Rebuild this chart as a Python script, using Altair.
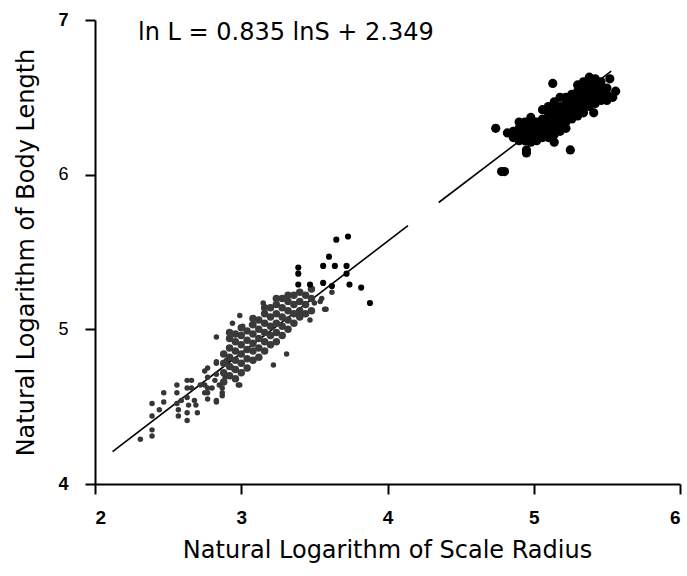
import altair as alt
import pandas as pd

# ---- data (natural-log units) ----
# lower (small fish) cluster, outer scattered dots
lower_sparse = [
    [2.31, 4.29], [2.39, 4.35], [2.39, 4.31], [2.39, 4.52], [2.39, 4.44], [2.44, 4.48],
    [2.47, 4.59], [2.47, 4.53], [2.56, 4.64], [2.56, 4.59], [2.56, 4.52], [2.57, 4.48],
    [2.57, 4.44], [2.59, 4.54], [2.63, 4.67], [2.63, 4.62], [2.63, 4.56], [2.64, 4.51],
    [2.63, 4.46], [2.63, 4.41], [2.66, 4.67], [2.66, 4.62], [2.68, 4.54], [2.70, 4.46],
    [2.69, 4.51], [2.72, 4.64], [2.75, 4.64], [2.77, 4.75], [2.77, 4.69], [2.77, 4.59],
    [2.77, 4.55], [2.80, 4.62], [2.83, 4.78], [2.83, 4.71], [2.82, 4.67], [2.83, 4.53],
    [2.85, 4.64], [2.87, 4.59], [2.90, 4.80], [2.94, 4.75], [2.98, 4.64],
    [3.15, 5.17], [2.99, 5.09], [2.94, 5.04], [2.83, 4.95], [3.07, 5.03], [3.01, 5.02],
    [3.31, 4.84], [3.22, 4.77], [2.83, 4.79], [2.75, 4.73], [2.77, 4.62], [2.75, 4.59],
    [2.89, 4.69], [2.87, 4.62], [2.87, 4.57], [2.99, 4.64], [2.83, 4.54], [3.47, 5.06],
    [3.50, 5.17], [3.55, 5.20], [3.57, 5.13], [3.62, 5.24], [3.54, 5.18], [3.58, 5.13],
]

# lower cluster, dense core
lower_dense = [
    [2.88, 4.66], [2.88, 4.72], [2.88, 4.78], [2.88, 4.84],
    [2.92, 4.70], [2.92, 4.76], [2.92, 4.82], [2.92, 4.88], [2.92, 4.94], [2.92, 4.98],
    [2.96, 4.68], [2.96, 4.74], [2.96, 4.80], [2.96, 4.86], [2.96, 4.92], [2.96, 4.97],
    [3.00, 4.72], [3.00, 4.78], [3.00, 4.84], [3.00, 4.90], [3.00, 4.96], [3.00, 5.01],
    [3.04, 4.75], [3.04, 4.81], [3.04, 4.87], [3.04, 4.93], [3.04, 4.99],
    [3.08, 4.80], [3.08, 4.86], [3.08, 4.91], [3.08, 4.97], [3.08, 5.03], [3.08, 5.07],
    [3.12, 4.82], [3.12, 4.88], [3.12, 4.94], [3.12, 5.00], [3.12, 5.06],
    [3.16, 4.86], [3.16, 4.92], [3.16, 4.98], [3.16, 5.04], [3.16, 5.10], [3.16, 5.14],
    [3.20, 4.90], [3.20, 4.96], [3.20, 5.02], [3.20, 5.08], [3.20, 5.14],
    [3.24, 4.92], [3.24, 4.98], [3.24, 5.04], [3.24, 5.10], [3.24, 5.16], [3.24, 5.20],
    [3.28, 4.96], [3.28, 5.02], [3.28, 5.08], [3.28, 5.14], [3.28, 5.20],
    [3.32, 5.00], [3.32, 5.06], [3.32, 5.12], [3.32, 5.18], [3.32, 5.22],
    [3.36, 5.04], [3.36, 5.10], [3.36, 5.16], [3.36, 5.22],
    [3.40, 5.08], [3.40, 5.12], [3.40, 5.18], [3.40, 5.24],
    [3.44, 5.10], [3.44, 5.16], [3.44, 5.22],
    [3.48, 5.12], [3.48, 5.20], [3.48, 5.26],
]

# black outlying dots above the lower cluster
lower_outliers = [
    [3.39, 5.40], [3.39, 5.36], [3.60, 5.47], [3.65, 5.58], [3.73, 5.60], [3.56, 5.41],
    [3.64, 5.41], [3.72, 5.41], [3.72, 5.36], [3.39, 5.29], [3.47, 5.29], [3.56, 5.30],
    [3.62, 5.28], [3.74, 5.29], [3.82, 5.27], [3.88, 5.17],
]

# upper (large fish) cluster
upper_points = [
    [4.74, 6.30], [4.78, 6.02], [4.80, 6.02], [4.95, 6.16], [4.95, 6.14], [5.25, 6.16],
    [5.41, 6.40], [5.13, 6.59], [5.14, 6.21], [4.82, 6.27],
    [4.86, 6.24], [4.86, 6.28],
    [4.90, 6.22], [4.90, 6.26], [4.90, 6.30], [4.90, 6.34],
    [4.94, 6.22], [4.94, 6.26], [4.94, 6.30], [4.94, 6.34],
    [4.98, 6.21], [4.98, 6.25], [4.98, 6.29], [4.98, 6.33], [4.98, 6.37],
    [5.02, 6.22], [5.02, 6.26], [5.02, 6.30], [5.02, 6.34],
    [5.06, 6.24], [5.06, 6.28], [5.06, 6.32], [5.06, 6.36], [5.06, 6.42],
    [5.10, 6.24], [5.10, 6.28], [5.10, 6.32], [5.10, 6.36], [5.10, 6.40], [5.10, 6.44],
    [5.14, 6.26], [5.14, 6.30], [5.14, 6.34], [5.14, 6.38], [5.14, 6.42], [5.14, 6.47],
    [5.18, 6.28], [5.18, 6.32], [5.18, 6.36], [5.18, 6.40], [5.18, 6.44], [5.18, 6.50],
    [5.22, 6.30], [5.22, 6.34], [5.22, 6.38], [5.22, 6.42], [5.22, 6.46], [5.22, 6.50],
    [5.26, 6.36], [5.26, 6.40], [5.26, 6.44], [5.26, 6.48], [5.26, 6.52],
    [5.30, 6.38], [5.30, 6.42], [5.30, 6.46], [5.30, 6.50], [5.30, 6.54], [5.30, 6.58],
    [5.34, 6.40], [5.34, 6.44], [5.34, 6.48], [5.34, 6.52], [5.34, 6.56], [5.34, 6.60],
    [5.38, 6.44], [5.38, 6.48], [5.38, 6.52], [5.38, 6.56], [5.38, 6.60], [5.38, 6.63],
    [5.42, 6.46], [5.42, 6.50], [5.42, 6.54], [5.42, 6.58], [5.42, 6.62],
    [5.46, 6.48], [5.46, 6.52], [5.46, 6.56], [5.46, 6.60],
    [5.50, 6.48], [5.50, 6.52], [5.50, 6.56], [5.54, 6.50], [5.56, 6.54], [5.52, 6.62],
]

# fitted line as drawn (with the gap seen in the print)
line_seg = [1, 1, 2, 2]
line_x = [2.12, 4.14, 4.35, 5.53]
line_y = [4.21, 5.67, 5.82, 6.67]

equation = "ln L = 0.835 lnS + 2.349"
x_ticks = [2, 3, 4, 5, 6]
y_ticks = [4, 5, 6, 7]

# ---- frames ----
def frame(pts):
    return pd.DataFrame({"x": [p[0] for p in pts], "y": [p[1] for p in pts]})

line_df = pd.DataFrame({"x": line_x, "y": line_y, "seg": line_seg})

FONT = "Liberation Sans"
TFONT = "DejaVu Sans"

xs = alt.Scale(domain=[2, 6], nice=False, zero=False)
ys = alt.Scale(domain=[4, 7], nice=False, zero=False)

x_axis = alt.Axis(
    values=x_ticks, format="d", grid=False, tickSize=10, tickWidth=2, tickColor="black",
    domainColor="black", domainWidth=2, labelFont=FONT, labelFontSize=19,
    labelFontWeight="bold", labelColor="black", labelPadding=14,
    title="Natural Logarithm of Scale Radius", titleFont=TFONT, titleFontSize=24,
    titleFontWeight="normal", titleColor="black", titleX=292, titleY=66,
    titleBaseline="middle", titleAlign="center",
)
y_axis = alt.Axis(
    values=y_ticks, format="d", grid=False, tickSize=10, tickWidth=2, tickColor="black",
    domainColor="black", domainWidth=2, labelFont=FONT, labelFontSize=18,
    labelFontWeight={"condition": {"test": "datum.value == 5 || datum.value == 6", "value": "normal"}, "value": "bold"},
    labelColor="black", labelPadding=17,
    title="Natural Logarithm of Body Length", titleFont=TFONT, titleFontSize=24,
    titleFontWeight="normal", titleColor="black", titleX=-69, titleY=232,
    titleBaseline="middle", titleAlign="center", titleAngle=-90,
)

X_ENC = alt.X("x:Q", scale=xs, axis=x_axis)
Y_ENC = alt.Y("y:Q", scale=ys, axis=y_axis)


def dots(pts, color, size):
    return alt.Chart(frame(pts)).mark_circle(opacity=1, color=color, size=size).encode(
        x=X_ENC, y=Y_ENC
    )


line = alt.Chart(line_df).mark_line(color="black", strokeWidth=1.6).encode(
    x=X_ENC, y=Y_ENC, detail="seg:N",
)

chart = alt.layer(
    line,
    dots(lower_sparse, "#363636", 30),
    dots(lower_dense, "#3a3a3a", 56),
    dots(lower_outliers, "#000000", 38),
    dots(upper_points, "#000000", 85),
).properties(
    width=585, height=464,
    padding={"left": 95, "top": 20, "right": 7, "bottom": 92},
    autosize=alt.AutoSizeParams(type="none"),
    background="white",
    title=alt.TitleParams(equation, anchor="start", frame="group", dx=43, dy=46,
                          font=TFONT, fontSize=24, fontWeight="normal", color="black",
                          baseline="middle", offset=0),
).configure_view(stroke=None)

chart.save("out.html", embed_options={"renderer": "svg", "actions": False})
